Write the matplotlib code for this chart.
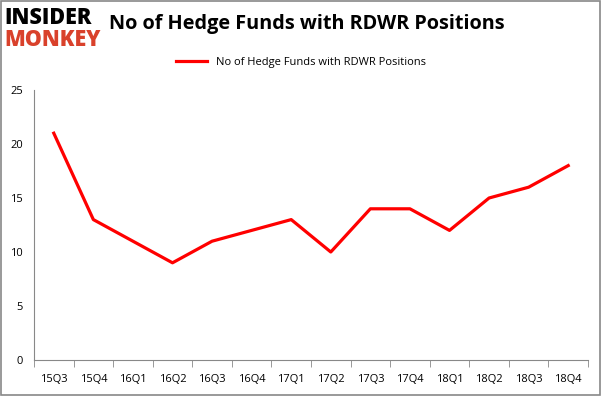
import matplotlib
matplotlib.use("Agg")
import matplotlib.pyplot as plt
from matplotlib.patches import Rectangle

quarters = ["15Q3", "15Q4", "16Q1", "16Q2", "16Q3", "16Q4", "17Q1",
            "17Q2", "17Q3", "17Q4", "18Q1", "18Q2", "18Q3", "18Q4"]
funds = [21, 13, 11, 9, 11, 12, 13, 10, 14, 14, 12, 15, 16, 18]

plt.rcParams['font.family'] = ['Open Sans', 'DejaVu Sans']

fig = plt.figure(figsize=(6.01, 3.96), dpi=100)
ax = fig.add_axes([34 / 601, 36 / 396, 554 / 601, 270 / 396])

x = list(range(len(quarters)))
ax.plot(x, funds, color='#ff0000', linewidth=2.3,
        label="No of Hedge Funds with RDWR Positions")

ax.set_xlim(-0.5, len(quarters) - 0.5)
ax.set_ylim(0, 25)
ax.set_yticks(range(0, 26, 5))
ax.set_xticks(x)
ax.set_xticklabels(quarters, fontsize=8)
ax.set_xticks([i - 0.5 for i in range(len(quarters) + 1)], minor=True)
ax.tick_params(axis='x', which='major', length=0, pad=10)
ax.tick_params(axis='x', which='minor', length=5, color='#888888')
ax.tick_params(axis='y', length=0, labelsize=8, pad=8)

for s in ['top', 'right']:
    ax.spines[s].set_visible(False)
for s in ['left', 'bottom']:
    ax.spines[s].set_color('#888888')

fig.suptitle("No of Hedge Funds with RDWR Positions", x=0.51, y=0.965,
             fontsize=14.3, fontweight='bold')
fig.legend(loc='center', bbox_to_anchor=(0.5, 1 - 62 / 396),
           frameon=False, fontsize=8, handlelength=2.8)

# logo
fig.text(4 / 601, 1 - 18 / 396, "INSIDER", fontsize=15.5, fontweight='heavy',
         color='black', va='center', ha='left')
fig.text(4 / 601, 1 - 40 / 396, "MONKEY", fontsize=15.5, fontweight='heavy',
         color='#d9412b', va='center', ha='left')

fig.patches.append(Rectangle((0.001, 0.002), 0.997, 0.996, transform=fig.transFigure,
                             fill=False, edgecolor='#888888', linewidth=1.2))

fig.savefig("out.png", dpi=100)
